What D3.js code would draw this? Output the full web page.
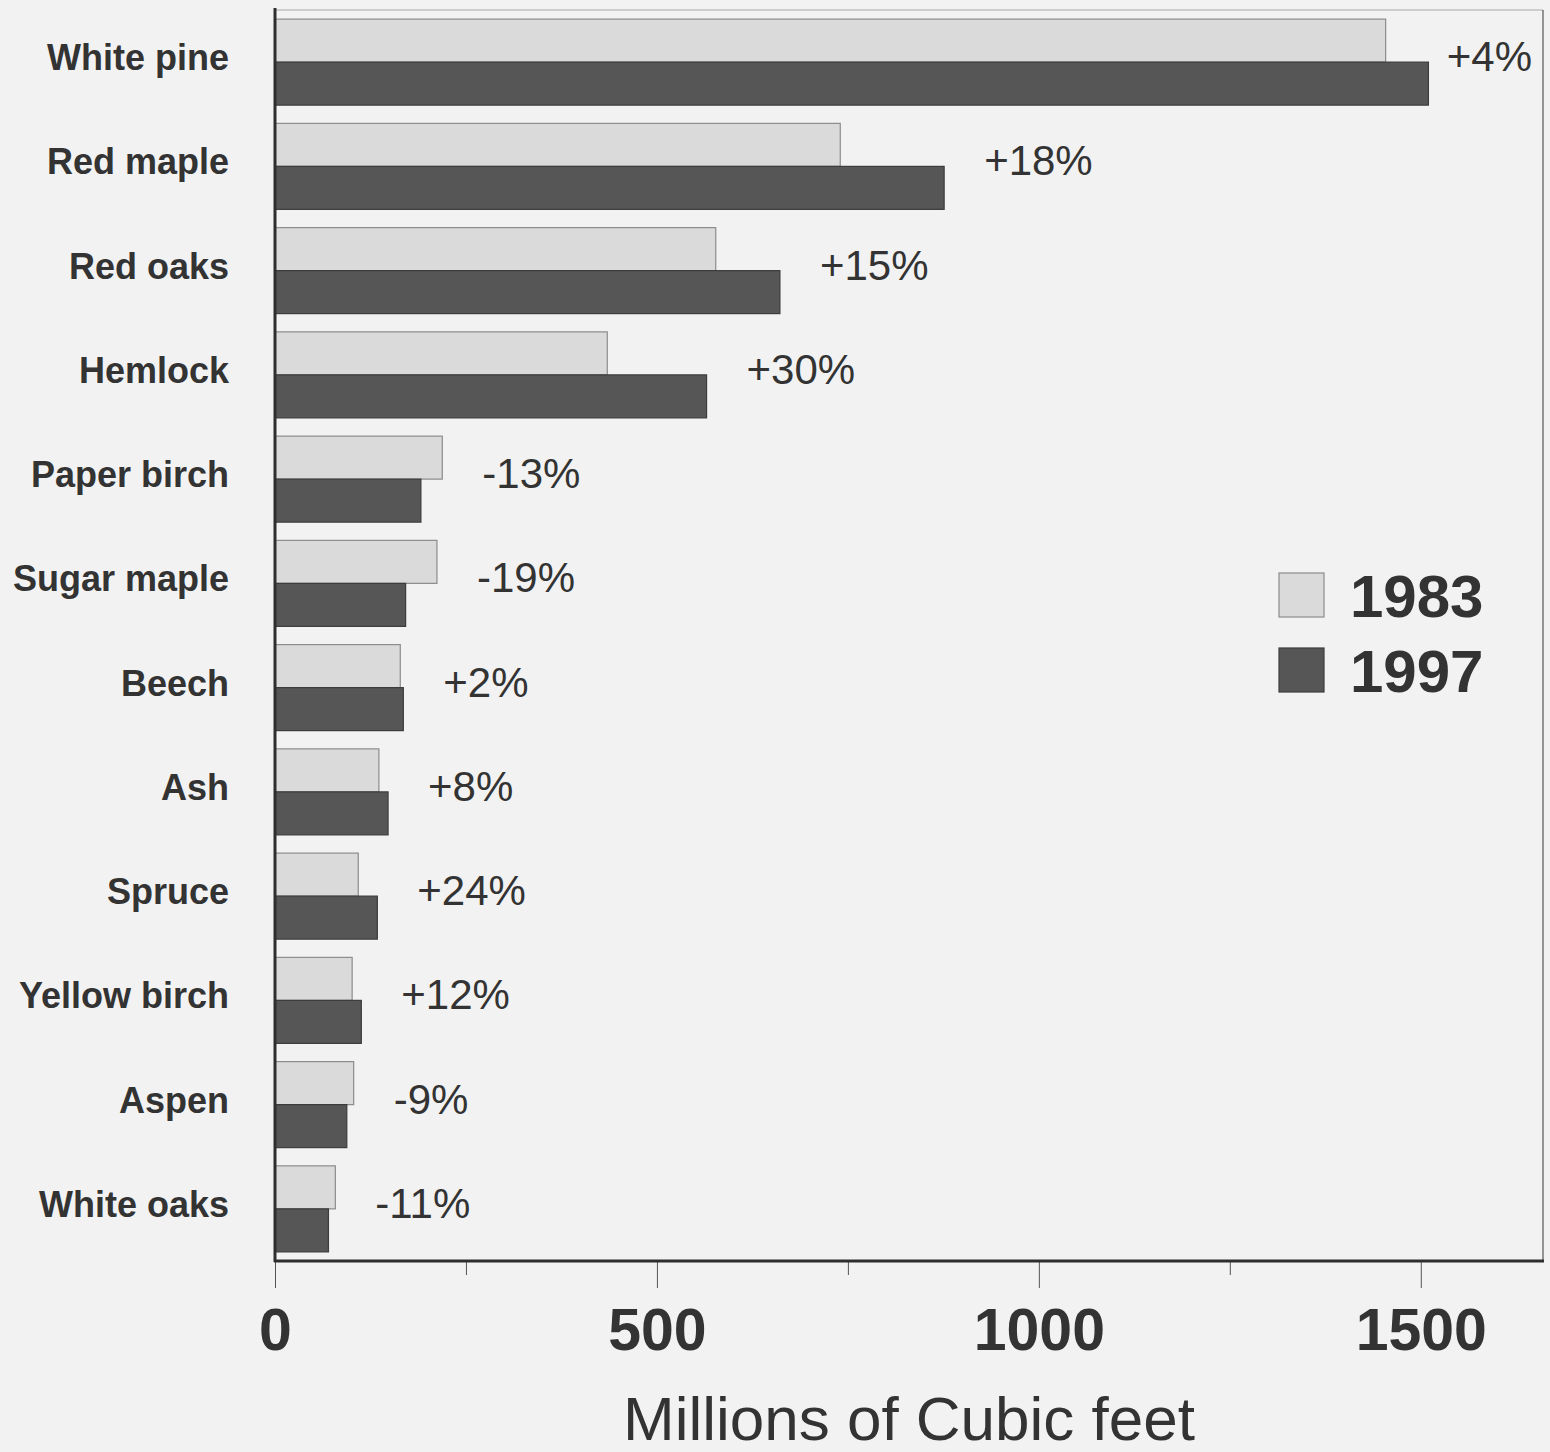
<!DOCTYPE html>
<html>
<head>
<meta charset="utf-8">
<script src="https://cdn.jsdelivr.net/npm/d3@7"></script>
<style>
  html, body { margin: 0; padding: 0; background: #f2f2f2; }
  svg { display: block; }
  text { font-family: "Liberation Sans", Arial, sans-serif; fill: #333; }
</style>
</head>
<body>
<svg id="chart" width="1550" height="1452"></svg>
<script>
// ---- data ----
const categories = ["White pine", "Red maple", "Red oaks", "Hemlock", "Paper birch", "Sugar maple",
                    "Beech", "Ash", "Spruce", "Yellow birch", "Aspen", "White oaks"];
const values1983 = [1454, 740, 577, 435, 219, 212, 164, 136, 109, 101, 103, 79];
const values1997 = [1510, 876, 661, 565, 191, 171, 168, 148, 134, 113, 94, 70];
const changeLabels = ["+4%", "+18%", "+15%", "+30%", "-13%", "-19%", "+2%", "+8%", "+24%", "+12%", "-9%", "-11%"];
const seriesNames = ["1983", "1997"];
const majorTicks = [0, 500, 1000, 1500];
const minorTicks = [250, 750, 1250];
const xDomainMax = 1660;
const axisTitle = "Millions of Cubic feet";

// ---- layout ----
const svg = d3.select("#chart");
const W = 1550, H = 1452;
const plot = { left: 275, right: 1543, top: 10, bottom: 1261 };
const fills = { "1983": "#dadada", "1997": "#565656" };
const strokes = { "1983": "#8c8c8c", "1997": "#3c3c3c" };

svg.append("rect").attr("width", W).attr("height", H).attr("fill", "#f2f2f2");

const x = d3.scaleLinear().domain([0, xDomainMax]).range([plot.left, plot.right]);
const y = d3.scaleBand().domain(categories).range([plot.top, plot.bottom])
  .paddingInner(0.175).paddingOuter(0.0875);
const ySub = d3.scaleBand().domain(seriesNames).range([0, y.bandwidth()]);

const rows = categories.map((c, i) => ({
  cat: c,
  vals: [{ s: "1983", v: values1983[i] }, { s: "1997", v: values1997[i] }],
  label: changeLabels[i],
  max: Math.max(values1983[i], values1997[i])
}));

// frame: top and right borders
svg.append("line").attr("x1", plot.left).attr("x2", plot.right)
  .attr("y1", plot.top).attr("y2", plot.top)
  .attr("stroke", "#a8a8a8").attr("stroke-width", 1.2);
svg.append("line").attr("x1", plot.right).attr("x2", plot.right)
  .attr("y1", plot.top).attr("y2", plot.bottom)
  .attr("stroke", "#555").attr("stroke-width", 1.2);

// bars
const g = svg.append("g");
const groups = g.selectAll("g.row").data(rows).join("g")
  .attr("class", "row")
  .attr("transform", d => `translate(0,${y(d.cat)})`);

groups.selectAll("rect").data(d => d.vals).join("rect")
  .attr("x", x(0))
  .attr("y", d => ySub(d.s))
  .attr("width", d => x(d.v) - x(0))
  .attr("height", ySub.bandwidth())
  .attr("fill", d => fills[d.s])
  .attr("stroke", d => strokes[d.s])
  .attr("stroke-width", 1.2);

// percent change labels (kept inside the plot frame)
groups.append("text")
  .attr("y", 52)
  .attr("font-size", 42)
  .text(d => d.label)
  .each(function (d) {
    const w = this.getComputedTextLength();
    let px = x(d.max) + 40;
    if (px + w > plot.right - 11) px = plot.right - 11 - w;
    d3.select(this).attr("x", px);
  });

// category labels
svg.append("g").selectAll("text").data(categories).join("text")
  .attr("x", 229)
  .attr("y", d => y(d) + y.bandwidth() / 2 + 8)
  .attr("text-anchor", "end")
  .attr("font-size", 36)
  .attr("font-weight", "bold")
  .text(d => d);

// left axis line
svg.append("line").attr("x1", x(0)).attr("x2", x(0))
  .attr("y1", plot.top - 2).attr("y2", plot.bottom + 1)
  .attr("stroke", "#2e2e2e").attr("stroke-width", 3);

// minor ticks
const minorAxis = d3.axisBottom(x).tickValues(minorTicks).tickSize(14).tickFormat("");
const gMinor = svg.append("g").attr("transform", `translate(0,${plot.bottom})`).call(minorAxis);
gMinor.select(".domain").remove();
gMinor.selectAll(".tick line").attr("stroke", "#555").attr("stroke-width", 1);

// major axis
const majorAxis = d3.axisBottom(x).tickValues(majorTicks).tickSize(27).tickPadding(4)
  .tickFormat(d3.format("d"));
const gAxis = svg.append("g").attr("transform", `translate(0,${plot.bottom})`).call(majorAxis);
gAxis.select(".domain").remove();
gAxis.selectAll(".tick line").attr("stroke", "#555").attr("stroke-width", 1);
gAxis.selectAll(".tick text")
  .attr("y", 89).attr("dy", 0)
  .attr("font-size", 59)
  .attr("font-weight", "bold")
  .attr("font-family", "Liberation Sans, Arial, sans-serif")
  .attr("fill", "#333");

svg.append("line").attr("x1", x(0) - 1).attr("x2", plot.right + 1)
  .attr("y1", plot.bottom).attr("y2", plot.bottom)
  .attr("stroke", "#2e2e2e").attr("stroke-width", 3);

// axis title
svg.append("text")
  .attr("x", (x(0) + plot.right) / 2)
  .attr("y", 1440)
  .attr("text-anchor", "middle")
  .attr("font-size", 62)
  .text(axisTitle);

// legend
const legend = svg.append("g").attr("transform", "translate(1279,573)");
const li = legend.selectAll("g").data(seriesNames).join("g")
  .attr("transform", (d, i) => `translate(0,${i * 75})`);
li.append("rect").attr("width", 45).attr("height", 44)
  .attr("fill", d => fills[d]).attr("stroke", d => strokes[d]).attr("stroke-width", 1.2);
li.append("text").attr("x", 71).attr("y", 44)
  .attr("font-size", 60).attr("font-weight", "bold")
  .text(d => d);
</script>
</body>
</html>
